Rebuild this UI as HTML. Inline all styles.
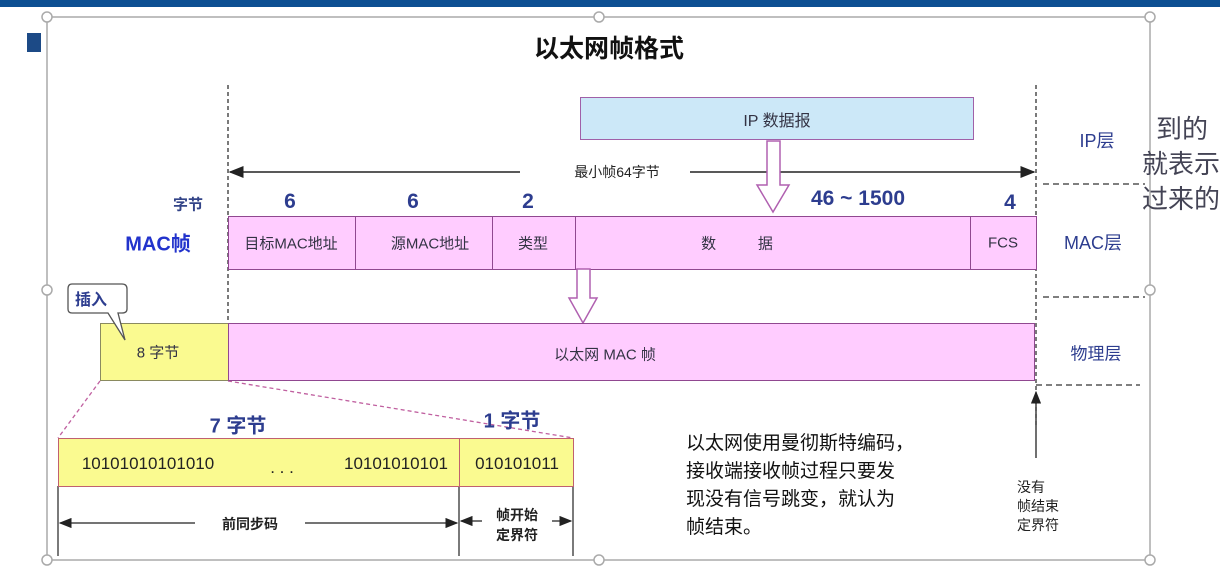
<!DOCTYPE html>
<html><head><meta charset="utf-8"><style>
body{margin:0;width:1220px;height:577px;background:#fff;position:relative;overflow:hidden;font-family:"Liberation Sans","Noto Sans CJK SC",sans-serif}
.t{position:absolute;white-space:nowrap;transform:translate(-50%,-50%)}
.b{position:absolute;box-sizing:border-box;border:1.5px solid #904890;background:#ffccff}
</style></head><body>
<div style="position:absolute;left:0;top:0;width:1220px;height:7px;background:#0c4f92"></div>
<div style="position:absolute;left:27px;top:33px;width:14px;height:19px;background:#1c4a86"></div>
<svg width="1220" height="577" style="position:absolute;left:0;top:0">
<defs><marker id="a" markerWidth="10" markerHeight="8" refX="9" refY="4" orient="auto"><path d="M0,0L10,4L0,8z" fill="#222"/></marker></defs>
<rect x="47" y="17" width="1103" height="543" fill="none" stroke="#aaa" stroke-width="1.5"/>
<g stroke="#222" stroke-dasharray="4,3" stroke-width="1.2"><line x1="228" y1="85" x2="228" y2="322"/><line x1="1036" y1="85" x2="1036" y2="425"/></g>
<g stroke="#555" stroke-dasharray="6,4" stroke-width="1.5"><line x1="1043" y1="184" x2="1145" y2="184"/><line x1="1043" y1="297" x2="1145" y2="297"/><line x1="1036" y1="385" x2="1140" y2="385"/></g>
<line x1="520" y1="172" x2="230" y2="172" stroke="#222" stroke-width="1.5" marker-end="url(#a)"/>
<line x1="690" y1="172" x2="1034" y2="172" stroke="#222" stroke-width="1.5" marker-end="url(#a)"/>
<g stroke="#c060a0" stroke-dasharray="4,3" stroke-width="1.3"><line x1="100" y1="381" x2="58" y2="438"/><line x1="228" y1="381" x2="573" y2="438"/></g>
<g stroke="#222" stroke-width="1.2"><line x1="58" y1="486" x2="58" y2="556"/><line x1="459" y1="486" x2="459" y2="556"/><line x1="573" y1="486" x2="573" y2="556"/></g>
<line x1="195" y1="523" x2="60" y2="523" stroke="#222" stroke-width="1.3" marker-end="url(#a)"/>
<line x1="305" y1="523" x2="457" y2="523" stroke="#222" stroke-width="1.3" marker-end="url(#a)"/>
<line x1="482" y1="521" x2="461" y2="521" stroke="#222" stroke-width="1.3" marker-end="url(#a)"/>
<line x1="552" y1="521" x2="571" y2="521" stroke="#222" stroke-width="1.3" marker-end="url(#a)"/>
<line x1="1036" y1="458" x2="1036" y2="392" stroke="#222" stroke-width="1.3" marker-end="url(#a)"/>
<g fill="#fff" stroke="#aaa" stroke-width="1.5">
<circle cx="47" cy="17" r="5"/><circle cx="599" cy="17" r="5"/><circle cx="1150" cy="17" r="5"/><circle cx="47" cy="290" r="5"/><circle cx="1150" cy="290" r="5"/><circle cx="47" cy="560" r="5"/><circle cx="599" cy="560" r="5"/><circle cx="1150" cy="560" r="5"/></g>
</svg>
<div class="t" style="left:609px;top:47px;font-size:25px;color:#111;font-weight:bold">以太网帧格式</div>
<div class="b" style="left:580px;top:97px;width:394px;height:43px;background:#cce8f8;border-color:#a060a8"></div>
<div class="t" style="left:777px;top:119px;font-size:16px;color:#334">IP 数据报</div>
<div class="t" style="left:617px;top:172px;font-size:14px;color:#222">最小帧64字节</div>
<div class="t" style="left:188px;top:204px;font-size:15px;color:#334488;font-weight:bold">字节</div>
<div class="t" style="left:290px;top:202px;font-size:21px;color:#2d3d8f;font-weight:bold">6</div>
<div class="t" style="left:413px;top:202px;font-size:21px;color:#2d3d8f;font-weight:bold">6</div>
<div class="t" style="left:528px;top:202px;font-size:21px;color:#2d3d8f;font-weight:bold">2</div>
<div class="t" style="left:858px;top:199px;font-size:21px;color:#2d3d8f;font-weight:bold">46 ~ 1500</div>
<div class="t" style="left:1010px;top:203px;font-size:21px;color:#2d3d8f;font-weight:bold">4</div>
<div class="t" style="left:158px;top:242px;font-size:20px;color:#2233cc;font-weight:bold">MAC帧</div>
<div class="b" style="left:228px;top:216px;width:129px;height:54px"></div>
<div class="b" style="left:355px;top:216px;width:139px;height:54px"></div>
<div class="b" style="left:492px;top:216px;width:85px;height:54px"></div>
<div class="b" style="left:575px;top:216px;width:397px;height:54px"></div>
<div class="b" style="left:970px;top:216px;width:67px;height:54px"></div>
<div class="t" style="left:291px;top:243px;font-size:15px;color:#334">目标MAC地址</div>
<div class="t" style="left:430px;top:243px;font-size:15px;color:#334">源MAC地址</div>
<div class="t" style="left:533px;top:243px;font-size:15px;color:#334">类型</div>
<div class="t" style="left:737px;top:243px;font-size:15px;color:#334">数&nbsp;&nbsp;&nbsp;&nbsp;&nbsp;&nbsp;&nbsp;&nbsp;&nbsp;&nbsp;据</div>
<div class="t" style="left:1003px;top:243px;font-size:15px;color:#334">FCS</div>
<svg width="1220" height="577" style="position:absolute;left:0;top:0">
<path d="M767,141L780,141L780,185L789,185L773,212L757,185L767,185Z" fill="#fff" stroke="#b060b0" stroke-width="1.5"/>
<path d="M577,269L590,269L590,298L597,298L583,323L569,298L577,298Z" fill="#fff" stroke="#b060b0" stroke-width="1.5"/>
</svg>
<div class="b" style="left:100px;top:323px;width:130px;height:58px;background:#fafa90;border-color:#8a8a60"></div>
<div class="b" style="left:228px;top:323px;width:807px;height:58px"></div>
<div class="t" style="left:158px;top:352px;font-size:15px;color:#334">8 字节</div>
<div class="t" style="left:605px;top:354px;font-size:15px;color:#334">以太网 MAC 帧</div>
<svg width="1220" height="577" style="position:absolute;left:0;top:0">
<path d="M72,284L122,284Q127,284 127,289L127,309Q127,313 122,313L118,313L125,340L108,313L72,313Q68,313 68,309L68,289Q68,284 72,284Z" fill="#fff" stroke="#555" stroke-width="1.3"/>
</svg>
<div class="t" style="left:91px;top:298px;font-size:16px;color:#2d3d8f;font-weight:bold">插入</div>
<div class="t" style="left:1097px;top:140px;font-size:18px;color:#2d3d8f">IP层</div>
<div class="t" style="left:1093px;top:242px;font-size:18px;color:#2d3d8f">MAC层</div>
<div class="t" style="left:1096px;top:352px;font-size:17px;color:#2d3d8f">物理层</div>
<div style="position:absolute;left:1156px;top:112px;font-size:26px;line-height:35px;color:#445;white-space:nowrap">到的<br><span style="margin-left:-14px">就表示</span><br><span style="margin-left:-14px">过来的</span></div>
<div class="t" style="left:238px;top:424px;font-size:20px;color:#2d3d8f;font-weight:bold">7 字节</div>
<div class="t" style="left:512px;top:419px;font-size:20px;color:#2d3d8f;font-weight:bold">1 字节</div>
<div class="b" style="left:58px;top:438px;width:403px;height:49px;background:#fafa90;border-color:#c06070"></div>
<div class="b" style="left:459px;top:438px;width:115px;height:49px;background:#fafa90;border-color:#c06070"></div>
<div class="t" style="left:148px;top:464px;font-size:17px;color:#222">10101010101010</div>
<div class="t" style="left:282px;top:468px;font-size:17px;color:#222">. . .</div>
<div class="t" style="left:396px;top:464px;font-size:17px;color:#222">10101010101</div>
<div class="t" style="left:517px;top:464px;font-size:17px;color:#222">010101011</div>
<div class="t" style="left:250px;top:524px;font-size:14px;color:#222;font-weight:bold">前同步码</div>
<div class="t" style="left:517px;top:525px;font-size:14px;line-height:20px;color:#222;text-align:center;font-weight:bold">帧开始<br>定界符</div>
<div style="position:absolute;left:686px;top:430px;font-size:19px;line-height:28px;color:#111;white-space:nowrap">以太网使用曼彻斯特编码，<br>接收端接收帧过程只要发<br>现没有信号跳变，就认为<br>帧结束。</div>
<div style="position:absolute;left:1017px;top:478px;font-size:14px;line-height:19px;color:#222;white-space:nowrap">没有<br>帧结束<br>定界符</div>
</body></html>
